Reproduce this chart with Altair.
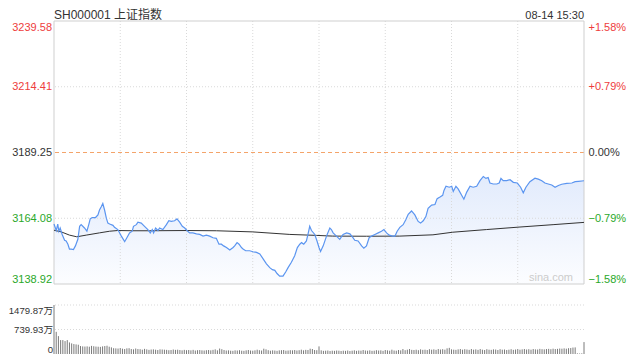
import altair as alt
import pandas as pd

# ---------------- data ----------------
title_left = "SH000001 上证指数"
title_right = "08-14 15:30"
watermark = "sina.com"

prev_close = 3189.25
price_ticks = [3138.92, 3164.08, 3189.25, 3214.41, 3239.58]
vol_ticks = [0, 739.93, 1479.87]
time_ticks = [0, 240]
time_labels = ["09:30", "15:00"]
grid_minutes = [30, 60, 90, 120, 150, 180, 210]

# (minutes since 09:30 trading open, index price)
price_points = [
    (0, 3161.86), (1.0, 3159.39), (1.7, 3161.86), (2.2, 3159.12), (2.8, 3160.36),
    (3.7, 3157.89), (4.8, 3155.64), (5.5, 3155.38), (6.3, 3154.15), (7.0, 3152.28),
    (7.8, 3152.28), (8.8, 3152.13), (9.7, 3153.51), (10.8, 3156.02), (11.6, 3160.99),
    (12.3, 3161.63), (13.8, 3160.36), (14.9, 3159.12), (15.8, 3161.86), (16.4, 3163.88),
    (17.3, 3164.36), (18.8, 3164.36), (19.9, 3165.37), (20.6, 3167.24), (21.4, 3168.48),
    (22.1, 3169.71), (22.9, 3167.24), (23.7, 3164.10), (24.4, 3162.23), (25.2, 3161.86),
    (26.7, 3161.37), (27.4, 3160.62), (28.9, 3159.76), (30.5, 3157.25), (32.0, 3155.12),
    (33.0, 3156.62), (34.2, 3158.49), (35.4, 3159.12), (36.0, 3160.99), (37.3, 3161.63),
    (38.0, 3162.60), (39.5, 3162.23), (41.0, 3160.99), (42.5, 3159.76), (43.6, 3158.49),
    (44.5, 3159.76), (45.1, 3158.49), (46.0, 3160.36), (47.1, 3159.39), (47.8, 3160.36),
    (49.3, 3159.76), (50.9, 3161.63), (52.0, 3163.13), (53.1, 3162.87), (54.6, 3163.13),
    (55.7, 3163.88), (56.9, 3162.60), (58.1, 3160.99), (59.2, 3160.36), (60.2, 3159.39),
    (61.4, 3158.49), (62.9, 3158.49), (64.5, 3158.11), (66.0, 3157.89), (67.5, 3157.25),
    (69.0, 3157.63), (70.5, 3157.25), (72.0, 3156.62), (73.5, 3156.39), (74.7, 3154.15),
    (75.8, 3154.15), (76.8, 3153.51), (78.1, 3152.88), (79.6, 3151.90), (81.1, 3152.88),
    (81.8, 3153.51), (82.9, 3154.75), (83.8, 3154.15), (84.9, 3152.88), (85.6, 3152.28),
    (86.8, 3151.64), (88.6, 3151.64), (90.1, 3151.27), (91.7, 3151.00), (93.2, 3150.41),
    (94.7, 3148.53), (96.2, 3146.66), (97.7, 3145.17), (98.9, 3144.42), (100.0, 3144.16),
    (101.0, 3142.92), (102.2, 3141.91), (103.7, 3141.91), (104.9, 3143.52), (106.0, 3145.17),
    (107.5, 3147.26), (109.0, 3149.77), (110.2, 3152.88), (111.3, 3154.15), (112.1, 3154.75),
    (113.1, 3154.15), (114.3, 3155.38), (115.0, 3157.89), (115.8, 3160.99), (116.6, 3159.39),
    (118.1, 3157.89), (119.1, 3155.38), (120.0, 3152.88),
    (120.7, 3151.38), (121.9, 3153.51), (123.4, 3157.25), (124.9, 3160.36), (125.6, 3159.76),
    (126.4, 3158.49), (127.9, 3157.25), (129.4, 3156.02), (130.9, 3157.89), (132.5, 3158.49),
    (134.0, 3158.11), (135.2, 3156.88), (136.2, 3155.64), (137.7, 3155.38), (139.3, 3153.51),
    (140.3, 3152.65), (141.5, 3153.51), (142.7, 3156.62), (143.8, 3157.25), (145.3, 3157.89),
    (146.8, 3158.49), (148.3, 3159.12), (149.4, 3159.76), (150.6, 3158.49), (151.8, 3157.63),
    (153.3, 3157.25), (154.4, 3157.25), (155.4, 3159.12), (156.6, 3160.62), (158.1, 3161.63),
    (159.3, 3163.50), (160.4, 3165.60), (161.9, 3166.87), (163.4, 3165.37), (164.9, 3162.87),
    (166.0, 3162.23), (167.2, 3163.13), (168.4, 3164.74), (169.4, 3167.84), (171.0, 3169.12),
    (172.5, 3169.34), (173.5, 3171.59), (174.8, 3172.22), (176.0, 3172.86), (176.6, 3174.73),
    (177.5, 3176.34), (179.0, 3175.96), (180.1, 3176.34), (180.8, 3174.35), (182.0, 3176.34),
    (183.0, 3175.33), (184.6, 3172.86), (185.6, 3171.36), (186.9, 3174.09), (188.4, 3176.34),
    (189.8, 3175.96), (191.4, 3176.34), (192.9, 3178.47), (194.4, 3180.08), (195.6, 3179.33),
    (196.6, 3179.70), (197.4, 3177.57), (198.9, 3177.20), (200.5, 3177.20), (201.6, 3177.57),
    (202.4, 3179.33), (203.4, 3178.47), (205.0, 3178.47), (206.5, 3178.84), (208.0, 3177.83),
    (209.8, 3177.57), (211.3, 3175.96), (212.5, 3173.83), (213.7, 3175.96), (215.5, 3178.10),
    (217.8, 3179.44), (219.3, 3179.07), (220.9, 3178.47), (222.3, 3177.57), (223.8, 3177.20),
    (225.4, 3176.82), (226.9, 3175.96), (228.4, 3176.60), (229.9, 3177.09), (232.2, 3177.46),
    (234.5, 3177.57), (236.0, 3178.10), (237.5, 3178.21), (240.0, 3178.43),
]

# average-price line (minutes, price)
ma_points = [
    (0, 3159.5), (3.3, 3158.86), (7.0, 3157.63), (10.3, 3156.99), (14.6, 3157.63),
    (20.6, 3158.49), (25.2, 3159.12), (28.8, 3159.39), (35.6, 3159.30), (43.3, 3159.30),
    (59.9, 3159.39), (73.5, 3159.30), (90.0, 3158.86), (106.8, 3157.89), (118.9, 3157.52),
    (126.2, 3157.25), (141.5, 3157.20), (156.6, 3157.25), (171.6, 3157.74), (180.6, 3158.74),
    (195.9, 3159.76), (211.0, 3160.73), (226.0, 3161.63), (240.0, 3162.50),
]

# per-minute volume (万), minute 0 .. 240
volume = [
    1479.87, 670, 540, 420, 420, 390, 420, 350, 320, 300,
    290, 280, 240, 230, 225, 230, 220, 245, 235, 225,
    220, 215, 230, 240, 250, 220, 200, 175, 170, 165,
    180, 160, 150, 170, 175, 150, 140, 165, 150, 145,
    130, 155, 140, 125, 135, 140, 130, 120, 140, 135,
    130, 125, 115, 120, 135, 125, 130, 120, 110, 125,
    115, 120, 110, 125, 105, 115, 120, 110, 105, 115,
    120, 110, 125, 140, 110, 165, 145, 120, 105, 110,
    100, 95, 110, 105, 115, 100, 95, 110, 120, 105,
    100, 110, 130, 115, 105, 160, 140, 115, 100, 110,
    105, 95, 110, 115, 120, 100, 105, 115, 110, 120,
    105, 115, 130, 110, 125, 120, 160, 150, 120, 115,
    230,
    110, 95, 100, 105, 90, 100, 95, 105, 100, 90,
    100, 95, 105, 90, 100, 110, 95, 105, 100, 120,
    105, 100, 110, 95, 100, 115, 105, 110, 95, 120,
    110, 100, 130, 105, 100, 120, 110, 150, 115, 130,
    150, 125, 120, 130, 115, 140, 125, 130, 120, 145,
    130, 140, 125, 150, 135, 145, 130, 170, 185, 140,
    130, 125, 140, 150, 130, 145, 135, 125, 150, 130,
    140, 125, 150, 130, 120, 145, 130, 125, 140, 135,
    120, 145, 130, 135, 120, 130, 145, 125, 135, 150,
    130, 140, 150, 135, 145, 130, 150, 140, 135, 155,
    145, 140, 150, 155, 145, 160, 150, 155, 165, 160,
    170, 160, 175, 180, 195, 200, 20, 15, 20, 360,
]

# ---------------- tables ----------------
price_df = pd.DataFrame(price_points, columns=["minute", "price"])
ma_df = pd.DataFrame(ma_points, columns=["minute", "avg"])
vol_df = pd.DataFrame({"minute": list(range(len(volume))), "vol": volume})
vgrid_df = pd.DataFrame({"minute": grid_minutes,
                         "top": [price_ticks[-1]] * len(grid_minutes),
                         "bottom": [price_ticks[0]] * len(grid_minutes)})
hgrid_df = pd.DataFrame({"price": [v for v in price_ticks[1:-1] if v != prev_close]})
prev_df = pd.DataFrame({"price": [prev_close]})
frame_df = pd.DataFrame({"t0": [time_ticks[0]], "t1": [time_ticks[1]],
                         "p0": [price_ticks[0]], "p1": [price_ticks[-1]]})
volgrid_df = pd.DataFrame({"vol": vol_ticks[1:]})

# ---------------- style / layout ----------------
FONT = "Liberation Sans, Arial, Noto Sans CJK SC, sans-serif"
RED = "#ee3d3d"
GREEN = "#2aa82a"
DARK = "#333333"
BLUE = "#5b95f0"
GRID = "#cfcfcf"
DOT = "#d9d9d9"

W, H = 530, 333          # whole drawing area (price panel + volume panel)
PRICE_H = 263            # price panel height
VOL_TOP = 284            # top of volume panel

px = alt.Scale(domain=[time_ticks[0], time_ticks[1]], nice=False, zero=False)
py = alt.Scale(domain=[price_ticks[0], price_ticks[-1]], range=[PRICE_H, 0], nice=False, zero=False)
vy = alt.Scale(domain=[0, vol_ticks[-1]], range=[H, VOL_TOP], nice=False, zero=False)

color_cond = {
    "condition": [
        {"test": f"datum.value > {prev_close} + 0.005", "value": RED},
        {"test": f"datum.value < {prev_close} - 0.005", "value": GREEN},
    ],
    "value": DARK,
}

x_axis = alt.Axis(
    values=time_ticks,
    labelExpr=f"datum.value == {time_ticks[0]} ? '{time_labels[0]}' : '{time_labels[1]}'",
    offset=-(H - PRICE_H), domain=False, ticks=False, grid=False,
    labelFlush=True, labelPadding=3, labelFont=FONT, labelFontSize=11, labelColor=DARK,
    title=None,
)
left_axis = alt.Axis(
    orient="left", values=price_ticks, format=".2f", domain=False, ticks=False, grid=False,
    labelFlush=True, labelPadding=2.5, labelFont=FONT, labelFontSize=11,
    labelColor=color_cond, title=None,
)
right_axis = alt.Axis(
    orient="right", values=price_ticks,
    labelExpr=f"(datum.value > {prev_close} + 0.005 ? '+' : '') + format((datum.value / {prev_close} - 1) * 100, '.2f') + '%'",
    domain=False, ticks=False, grid=False, labelFlush=True, labelPadding=4,
    labelFont=FONT, labelFontSize=11, labelColor=color_cond, title=None,
)
vol_axis = alt.Axis(
    orient="left", values=vol_ticks,
    labelExpr="datum.value == 0 ? '0' : format(datum.value, '.2f') + '万'",
    domain=False, ticks=False, grid=False, labelFlush=True, labelPadding=1.5,
    labelFont=FONT, labelFontSize=9.6, labelColor=DARK, title=None,
)

area = alt.Chart(price_df).mark_area(
    color=alt.Gradient(
        gradient="linear",
        stops=[alt.GradientStop(color="#e2ebfc", offset=0),
               alt.GradientStop(color="#fcfdff", offset=1)],
        x1=0, x2=0, y1=0, y2=1,
    )
).encode(
    x=alt.X("minute:Q", scale=px, axis=x_axis),
    y=alt.Y("price:Q", scale=py, axis=left_axis),
    y2=alt.datum(price_ticks[0]),
)

vgrid = alt.Chart(vgrid_df).mark_rule(color=DOT, strokeDash=[1, 2], strokeWidth=1).encode(
    x=alt.X("minute:Q", scale=px, axis=None),
    y=alt.Y("top:Q", scale=py, axis=None),
    y2="bottom:Q",
)

hgrid = alt.Chart(hgrid_df).mark_rule(color=DOT, strokeDash=[1, 2], strokeWidth=1).encode(
    y=alt.Y("price:Q", scale=py, axis=None),
)

prev_rule = alt.Chart(prev_df).mark_rule(color="#f4a46a", strokeDash=[4, 3], strokeWidth=1).encode(
    y=alt.Y("price:Q", scale=py, axis=None),
)

frame = alt.Chart(frame_df).mark_rect(fill=None, stroke=GRID, strokeWidth=1).encode(
    x=alt.X("t0:Q", scale=px, axis=None),
    x2="t1:Q",
    y=alt.Y("p0:Q", scale=py, axis=None),
    y2="p1:Q",
)

ma_line = alt.Chart(ma_df).mark_line(color="#333333", strokeWidth=1).encode(
    x=alt.X("minute:Q", scale=px, axis=None),
    y=alt.Y("avg:Q", scale=py, axis=None),
)

price_line = alt.Chart(price_df).mark_line(color=BLUE, strokeWidth=1.2).encode(
    x=alt.X("minute:Q", scale=px, axis=None),
    y=alt.Y("price:Q", scale=py, axis=right_axis),
)

vol_grid = alt.Chart(volgrid_df).mark_rule(color=DOT, strokeDash=[1, 2], strokeWidth=1).encode(
    y=alt.Y("vol:Q", scale=vy, axis=None),
)

vol_bars = alt.Chart(vol_df).mark_rule(color="#7a7a7a", strokeWidth=1).encode(
    x=alt.X("minute:Q", scale=px, axis=None),
    y=alt.Y("vol:Q", scale=vy, axis=vol_axis),
    y2=alt.datum(0),
)

title_l = alt.Chart(pd.DataFrame({"t": [title_left]})).mark_text(
    align="left", baseline="alphabetic", font=FONT, fontSize=12, color=DARK
).encode(text="t:N", x=alt.value(0), y=alt.value(-2.5))

title_r = alt.Chart(pd.DataFrame({"t": [title_right]})).mark_text(
    align="right", baseline="alphabetic", font=FONT, fontSize=11, color=DARK
).encode(text="t:N", x=alt.value(W), y=alt.value(-2.5))

wm = alt.Chart(pd.DataFrame({"t": [watermark]})).mark_text(
    align="right", baseline="middle", font=FONT, fontSize=11, color="#cccccc"
).encode(text="t:N", x=alt.value(W - 11), y=alt.value(PRICE_H - 6))

chart = alt.layer(
    area, vgrid, hgrid, prev_rule, frame, wm, ma_line, price_line,
    vol_grid, vol_bars, title_l, title_r,
).resolve_scale(y="independent").properties(
    width=W, height=H,
    autosize=alt.AutoSizeParams(type="none"),
    padding={"left": 46, "top": 13, "right": 48, "bottom": 2},
    background="white",
).configure_view(stroke=None)

chart.save("out.html", embed_options={"renderer": "svg", "actions": False})
